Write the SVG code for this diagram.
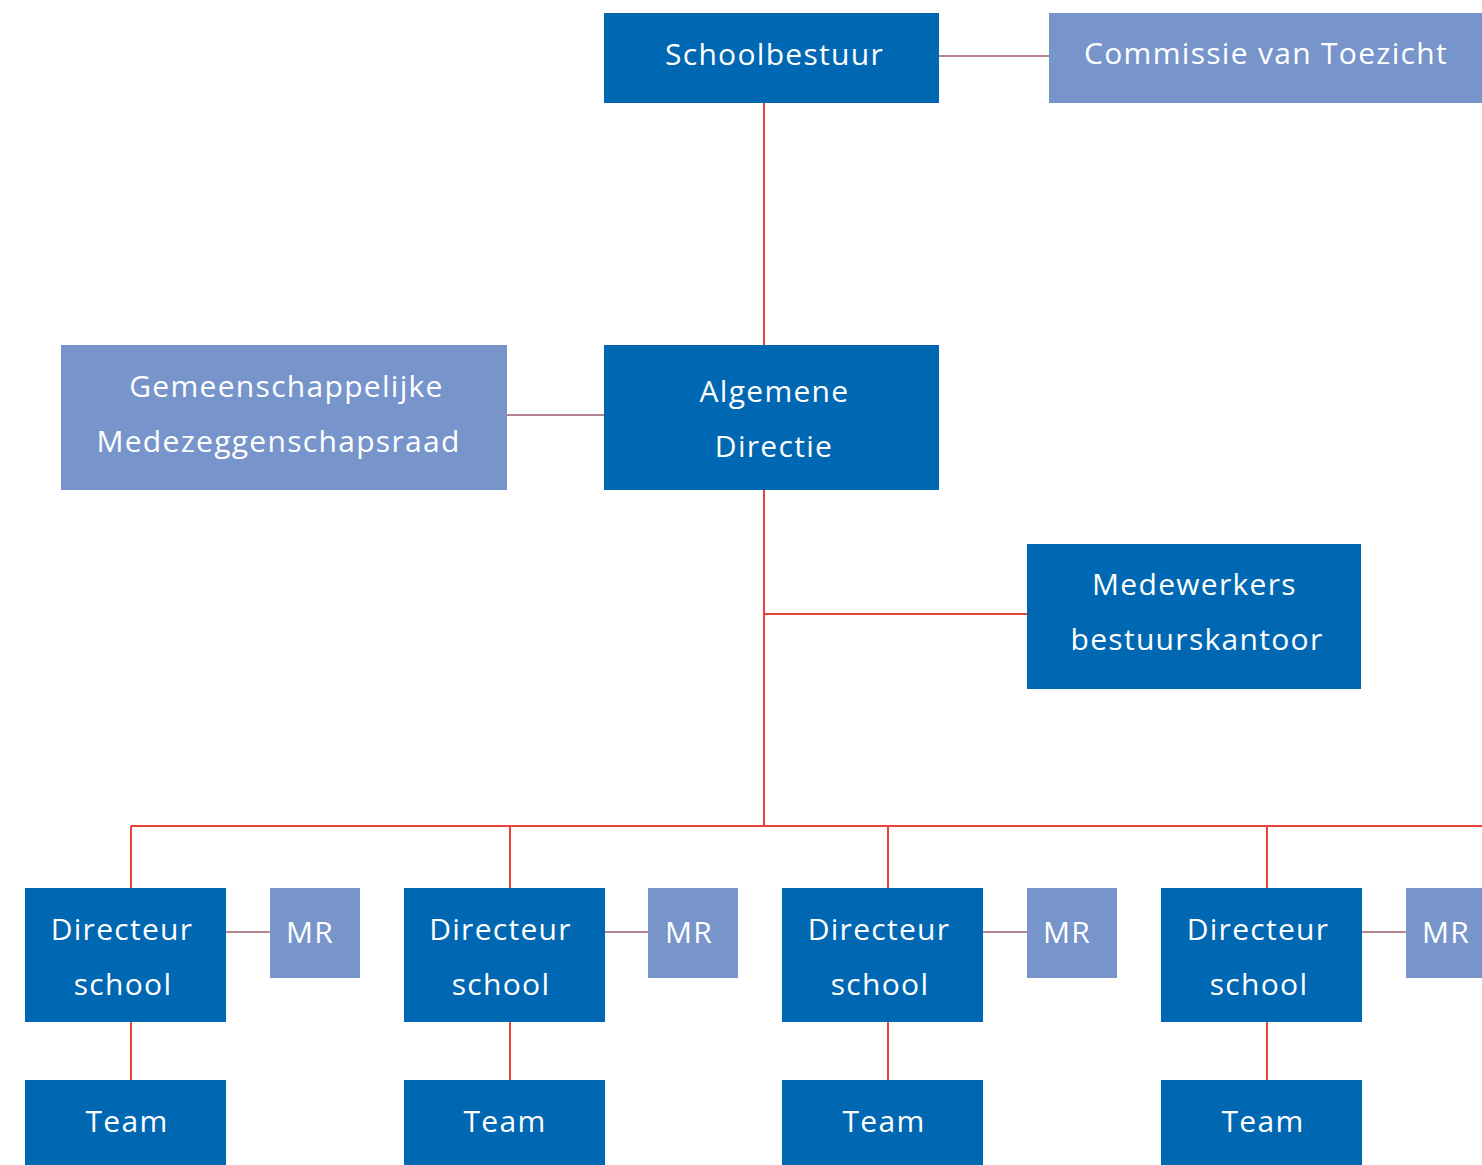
<svg xmlns="http://www.w3.org/2000/svg" width="1482" height="1165" viewBox="0 0 1482 1165">
<style>
.d{fill:#0068b3}
.l{fill:#7795cb}
.t{fill:#ffffff;font-family:"Open Sans","Noto Sans",sans-serif;font-size:30px;letter-spacing:1.3px;text-anchor:middle}
.r{stroke:#e8423a;stroke-width:2;fill:none}
.m{stroke:#b6838e;stroke-width:2;fill:none}
</style>
<rect width="1482" height="1165" fill="#ffffff"/>
<g id="connectors">
<line class="m" x1="939" y1="56" x2="1049" y2="56"/>
<line class="r" x1="764" y1="103" x2="764" y2="345"/>
<line class="m" x1="507" y1="415" x2="604" y2="415"/>
<line class="r" x1="764" y1="490" x2="764" y2="826"/>
<line class="r" x1="764" y1="614" x2="1027" y2="614"/>
<line class="r" x1="131" y1="826" x2="1482" y2="826"/>
<path class="r" d="M131 826V888M510 826V888M888 826V888M1267 826V888"/>
<path class="r" d="M131 1022V1080M510 1022V1080M888 1022V1080M1267 1022V1080"/>
<path class="m" d="M226 932H270M605 932H648M983 932H1027M1362 932H1406"/>
</g>
<g id="schoolbestuur"><rect class="d" x="604" y="13" width="335" height="90"/><text class="t" x="774.5" y="65">Schoolbestuur</text></g>
<g id="commissie"><rect class="l" x="1049" y="13" width="440" height="90"/><text class="t" x="1266" y="64">Commissie van Toezicht</text></g>
<g id="gmr"><rect class="l" x="61" y="345" width="446" height="145"/><text class="t" x="286.5" y="397">Gemeenschappelijke</text><text class="t" x="278.5" y="452">Medezeggenschapsraad</text></g>
<g id="algemene-directie"><rect class="d" x="604" y="345" width="335" height="145"/><text class="t" x="774.5" y="402">Algemene</text><text class="t" x="774" y="457">Directie</text></g>
<g id="medewerkers"><rect class="d" x="1027" y="544" width="334" height="145"/><text class="t" x="1194.5" y="595">Medewerkers</text><text class="t" x="1197" y="650">bestuurskantoor</text></g>
<g id="directeur1"><rect class="d" x="25" y="888" width="201" height="134"/><text class="t" x="122" y="940">Directeur</text><text class="t" x="123" y="995">school</text></g>
<g id="mr1"><rect class="l" x="270" y="888" width="90" height="90"/><text class="t" x="310" y="943">MR</text></g>
<g id="team1"><rect class="d" x="25" y="1080" width="201" height="85"/><text class="t" x="127" y="1132">Team</text></g>
<g id="directeur2"><rect class="d" x="404" y="888" width="201" height="134"/><text class="t" x="500.5" y="940">Directeur</text><text class="t" x="501" y="995">school</text></g>
<g id="mr2"><rect class="l" x="648" y="888" width="90" height="90"/><text class="t" x="689" y="943">MR</text></g>
<g id="team2"><rect class="d" x="404" y="1080" width="201" height="85"/><text class="t" x="505" y="1132">Team</text></g>
<g id="directeur3"><rect class="d" x="782" y="888" width="201" height="134"/><text class="t" x="879" y="940">Directeur</text><text class="t" x="880" y="995">school</text></g>
<g id="mr3"><rect class="l" x="1027" y="888" width="90" height="90"/><text class="t" x="1067" y="943">MR</text></g>
<g id="team3"><rect class="d" x="782" y="1080" width="201" height="85"/><text class="t" x="884" y="1132">Team</text></g>
<g id="directeur4"><rect class="d" x="1161" y="888" width="201" height="134"/><text class="t" x="1258" y="940">Directeur</text><text class="t" x="1259" y="995">school</text></g>
<g id="mr4"><rect class="l" x="1406" y="888" width="90" height="90"/><text class="t" x="1446" y="943">MR</text></g>
<g id="team4"><rect class="d" x="1161" y="1080" width="201" height="85"/><text class="t" x="1263" y="1132">Team</text></g>
</svg>
